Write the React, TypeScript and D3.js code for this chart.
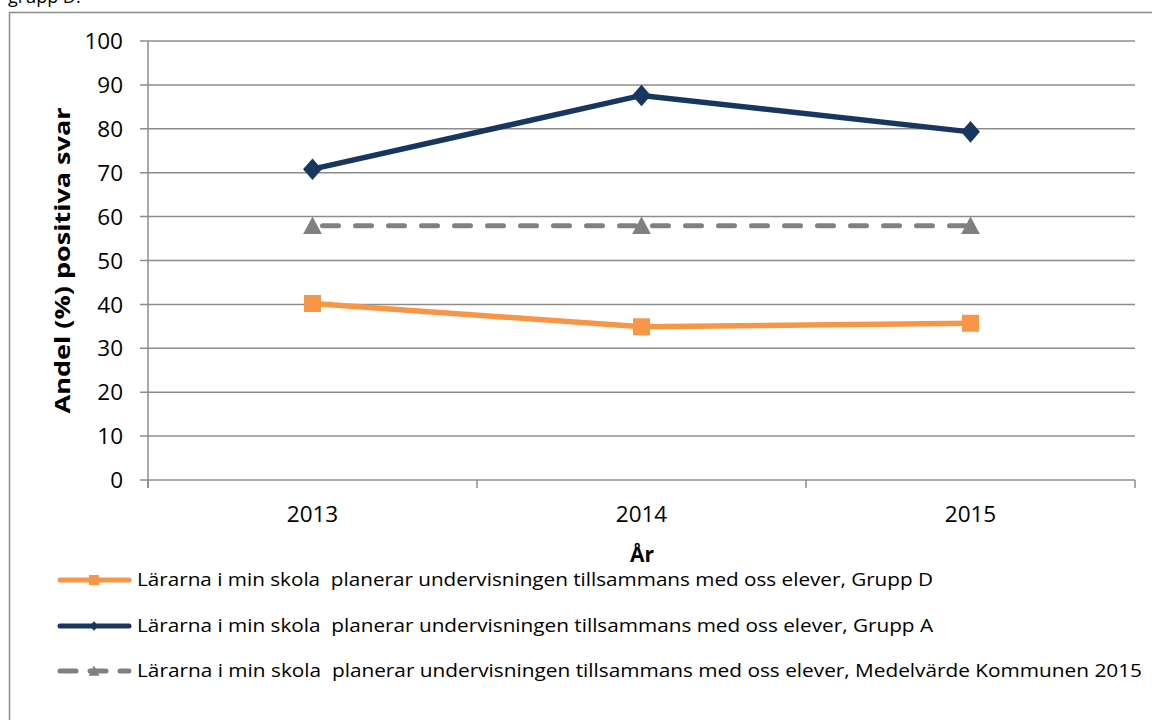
import React, { useRef, useEffect } from 'react'
import * as d3 from 'd3'

const years = ['2013', '2014', '2015']
const yTicks = [0, 10, 20, 30, 40, 50, 60, 70, 80, 90, 100]
const grupD = [40.2, 34.9, 35.7]
const grupA = [70.8, 87.6, 79.3]
const medel = [57.9, 57.9, 57.9]
const legendLabels = [
	'Lärarna i min skola  planerar undervisningen tillsammans med oss elever, Grupp D',
	'Lärarna i min skola  planerar undervisningen tillsammans med oss elever, Grupp A',
	'Lärarna i min skola  planerar undervisningen tillsammans med oss elever, Medelvärde Kommunen 2015',
]

const FONT = '"Open Sans", Lato, sans-serif'

const App = () => {
	const svgRef = useRef<SVGSVGElement>(null)

	useEffect(() => {
		const svg = d3.select(svgRef.current)
		svg.selectAll('*').remove()

		const left = 148, right = 1135, top = 41, bottom = 480

		// outer frame and the clipped caption above it
		svg.append('rect')
			.attr('x', 9.5).attr('y', 12.5)
			.attr('width', 1160).attr('height', 720)
			.attr('fill', 'white').attr('stroke', '#8c8c8c').attr('stroke-width', 1.5)
		svg.append('text')
			.attr('x', 8).attr('y', 3)
			.style('font-family', FONT).style('font-size', '18px')
			.text('grupp D.')

		const x = d3.scaleBand().domain(years).range([left, right]).padding(0)
		const y = d3.scaleLinear().domain([0, 100]).range([bottom, top])
		const cx = (d: string) => (x(d) as number) + x.bandwidth() / 2

		// grid
		svg.append('g')
			.selectAll('line')
			.data(yTicks)
			.join('line')
			.attr('x1', left - 8).attr('x2', right)
			.attr('y1', (d) => y(d)).attr('y2', (d) => y(d))
			.attr('stroke', '#8c8c8c').attr('stroke-width', 1.5)

		svg.append('g')
			.selectAll('text')
			.data(yTicks)
			.join('text')
			.attr('x', 123).attr('y', (d) => y(d))
			.attr('dy', '0.36em')
			.attr('text-anchor', 'end')
			.style('font-family', FONT).style('font-size', '22.5px')
			.text((d) => d)

		// axes
		svg.append('line')
			.attr('x1', left).attr('x2', left).attr('y1', top).attr('y2', bottom + 8)
			.attr('stroke', '#8c8c8c').attr('stroke-width', 1.5)
		const bounds = [...years.map((d) => x(d) as number), right]
		svg.append('g')
			.selectAll('line')
			.data(bounds)
			.join('line')
			.attr('x1', (d) => d).attr('x2', (d) => d)
			.attr('y1', bottom).attr('y2', bottom + 8)
			.attr('stroke', '#8c8c8c').attr('stroke-width', 1.5)

		svg.append('g')
			.selectAll('text')
			.data(years)
			.join('text')
			.attr('x', cx).attr('y', 522)
			.attr('text-anchor', 'middle')
			.style('font-family', FONT).style('font-size', '22.5px')
			.text((d) => d)

		svg.append('text')
			.attr('x', 642).attr('y', 562)
			.attr('text-anchor', 'middle')
			.style('font-family', FONT).style('font-size', '21px').style('font-weight', 'bold')
			.text('År')

		svg.append('text')
			.attr('transform', `translate(70, ${(top + bottom) / 2}) rotate(-90)`)
			.attr('text-anchor', 'middle')
			.attr('textLength', 306)
			.attr('lengthAdjust', 'spacingAndGlyphs')
			.style('font-family', FONT).style('font-size', '21px').style('font-weight', 'bold')
			.text('Andel (%) positiva svar')

		const line = d3.line<number>()
			.x((_, i) => cx(years[i]))
			.y((d) => y(d))

		const series = [
			{ values: grupD, color: '#F79646', dash: null, marker: 'square' },
			{ values: grupA, color: '#17375E', dash: null, marker: 'diamond' },
			{ values: medel, color: '#808080', dash: '16 17', marker: 'triangle' },
		]

		const markerPath = (m: string, s: number) => {
			if (m === 'square') return `M${-s},${-s}H${s}V${s}H${-s}Z`
			if (m === 'diamond') return `M0,${-s * 1.2}L${s * 1.05},0L0,${s * 1.2}L${-s * 1.05},0Z`
			return `M0,${-s * 1.1}L${s * 1.1},${s * 0.95}L${-s * 1.1},${s * 0.95}Z`
		}
		const markerSize: Record<string, number> = { square: 8.5, diamond: 9, triangle: 8.5 }

		series.forEach((s) => {
			svg.append('path')
				.datum(s.values)
				.attr('d', line)
				.attr('fill', 'none')
				.attr('stroke', s.color)
				.attr('stroke-width', s.dash ? 5 : 5.5)
				.attr('stroke-linecap', 'round')
				.attr('stroke-dasharray', s.dash)
				.attr('stroke-dashoffset', s.dash ? -10 : null)
			svg.append('g')
				.selectAll('path')
				.data(s.values)
				.join('path')
				.attr('transform', (d, i) => `translate(${cx(years[i])},${y(d)})`)
				.attr('d', markerPath(s.marker, markerSize[s.marker]))
				.attr('fill', s.color)
		})

		// legend
		const legendY = [580, 626, 671]
		const legendWidth = [796, 796, 1005]
		series.forEach((s, i) => {
			const g = svg.append('g').attr('transform', `translate(0, ${legendY[i]})`)
			g.append('line')
				.attr('x1', 60).attr('x2', 129).attr('y1', 0).attr('y2', 0)
				.attr('stroke', s.color).attr('stroke-width', 5)
				.attr('stroke-linecap', 'round')
				.attr('stroke-dasharray', s.dash ? '16 14' : null)
			g.append('path')
				.attr('transform', 'translate(94, 0)')
				.attr('d', markerPath(s.marker, s.marker === 'diamond' ? 4 : 5))
				.attr('fill', s.color)
			g.append('text')
				.attr('x', 137).attr('y', 0).attr('dy', '0.36em')
				.attr('textLength', legendWidth[i])
				.attr('lengthAdjust', 'spacingAndGlyphs')
				.style('font-family', FONT).style('font-size', '18px')
				.style('white-space', 'pre')
				.text(legendLabels[i])
		})
	}, [])

	return (
		<svg
			ref={svgRef}
			width={1152}
			height={720}
			style={{ position: 'absolute', left: 0, top: 0, background: 'white' }}
		/>
	)
}

export default App
